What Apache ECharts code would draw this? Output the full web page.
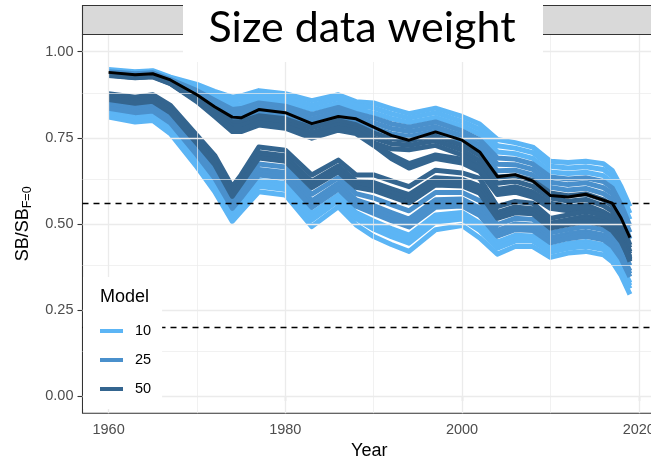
<!DOCTYPE html>
<html>
<head>
<meta charset="utf-8">
<script src="https://cdn.jsdelivr.net/npm/echarts@6/dist/echarts.min.js"></script>
<style>
  html, body { margin: 0; padding: 0; background: #ffffff; }
  #chart { width: 651px; height: 460px; }
</style>
</head>
<body>
<div id="chart"></div>
<script>
// Assessment years at which each trajectory is sampled
const years = [1960,1963,1965,1967,1970,1972,1974,1975,1977,1980,1983,1986,1988,1990,1992,1994,1997,2000,2002,2004,2006,2008,2010,2012,2014,2016,2017,2018,2019];

// Upper group of runs (less depleted), by model
const upper10 = [
  [.948,.942,.945,.926,.905,.885,.868,.872,.887,.878,.858,.875,.855,.851,.835,.820,.836,.812,.790,.745,.736,.723,.682,.678,.682,.675,.655,.608,.550],
  [.946,.940,.943,.924,.899,.876,.856,.860,.875,.866,.845,.863,.844,.837,.820,.807,.823,.798,.775,.727,.720,.707,.667,.662,.666,.658,.638,.591,.531],
  [.944,.938,.941,.922,.893,.868,.844,.847,.863,.854,.832,.850,.833,.822,.806,.794,.809,.784,.760,.709,.704,.690,.651,.646,.650,.640,.621,.574,.513]
];
const upper25 = [
  [.942,.936,.939,.919,.887,.859,.832,.835,.851,.842,.818,.838,.821,.808,.791,.781,.796,.770,.744,.691,.688,.674,.636,.630,.634,.623,.604,.556,.494],
  [.940,.934,.937,.917,.882,.850,.820,.822,.839,.830,.805,.825,.810,.793,.777,.768,.782,.756,.729,.673,.672,.658,.621,.614,.619,.605,.588,.539,.475],
  [.938,.931,.934,.915,.876,.841,.808,.810,.826,.817,.792,.813,.799,.779,.762,.754,.769,.742,.714,.654,.656,.642,.606,.598,.603,.588,.571,.522,.456]
];
const upper50 = [
  [.936,.929,.932,.913,.870,.833,.796,.797,.814,.805,.779,.800,.788,.764,.747,.741,.755,.728,.699,.636,.640,.626,.590,.582,.587,.570,.554,.505,.438],
  [.934,.927,.930,.910,.864,.824,.784,.785,.802,.793,.765,.788,.776,.750,.733,.728,.742,.714,.683,.618,.624,.609,.575,.566,.571,.553,.537,.487,.419],
  [.932,.925,.928,.908,.858,.815,.772,.772,.790,.781,.752,.775,.765,.735,.718,.715,.728,.700,.668,.600,.608,.593,.560,.550,.555,.535,.520,.470,.400]
];
// Runs that leave the upper group in the early 1990s
const drift50 = [
  [.931,.924,.927,.907,.855,.812,.768,.768,.787,.778,.749,.772,.762,.728,.690,.662,.690,.677,.652,.585,.592,.578,.545,.538,.542,.522,.507,.460,.390],
  [.933,.926,.929,.909,.860,.818,.775,.774,.793,.784,.755,.778,.770,.732,.700,.675,.700,.688,.660,.592,.600,.585,.552,.544,.548,.530,.515,.468,.395]
];

// Lower group of runs (more depleted), by model
const lower50 = [
  [.878,.868,.875,.844,.757,.699,.608,.642,.723,.714,.642,.685,.642,.642,.625,.608,.656,.648,.632,.550,.565,.560,.516,.526,.536,.526,.510,.480,.430],
  [.870,.859,.866,.834,.746,.686,.595,.629,.707,.698,.623,.668,.624,.620,.602,.585,.634,.629,.610,.533,.549,.544,.502,.512,.522,.512,.495,.464,.413],
  [.866,.855,.861,.829,.740,.680,.587,.623,.699,.690,.614,.660,.615,.609,.591,.575,.624,.620,.600,.525,.541,.537,.495,.505,.515,.505,.488,.456,.405],
  [.861,.850,.856,.823,.734,.673,.580,.616,.691,.682,.605,.651,.606,.597,.579,.561,.613,.610,.589,.516,.532,.529,.488,.498,.507,.497,.480,.448,.396]
];
const lower25 = [
  [.853,.841,.847,.813,.723,.660,.570,.602,.674,.665,.586,.634,.588,.575,.556,.538,.591,.591,.567,.498,.516,.513,.474,.484,.493,.483,.465,.431,.379],
  [.844,.832,.838,.803,.711,.647,.558,.589,.658,.649,.567,.618,.570,.553,.533,.514,.570,.572,.546,.481,.500,.497,.460,.471,.478,.468,.450,.415,.363],
  [.840,.828,.833,.798,.705,.640,.552,.582,.650,.641,.558,.610,.561,.542,.521,.503,.559,.562,.535,.472,.492,.489,.453,.464,.471,.461,.443,.407,.355],
  [.836,.823,.828,.793,.700,.633,.545,.576,.642,.633,.548,.601,.551,.530,.509,.491,.548,.552,.524,.464,.483,.481,.445,.457,.464,.454,.435,.399,.346]
];
const lower10 = [
  [.827,.814,.819,.782,.688,.620,.532,.563,.626,.617,.530,.584,.533,.508,.486,.467,.526,.533,.502,.447,.467,.465,.431,.443,.449,.439,.420,.383,.329],
  [.823,.810,.814,.777,.683,.614,.526,.556,.618,.609,.521,.576,.524,.497,.475,.456,.516,.524,.492,.438,.459,.458,.424,.436,.442,.432,.413,.375,.321],
  [.819,.805,.809,.772,.677,.607,.520,.549,.609,.600,.511,.567,.515,.485,.463,.444,.505,.514,.481,.429,.450,.450,.417,.429,.435,.425,.405,.366,.312],
  [.810,.796,.800,.762,.665,.594,.507,.536,.593,.584,.492,.550,.497,.463,.440,.420,.483,.495,.459,.412,.434,.434,.403,.415,.420,.410,.390,.350,.295]
];

// Median across all runs
const median = [.940,.933,.936,.918,.875,.840,.810,.808,.832,.823,.791,.812,.805,.781,.757,.743,.767,.743,.709,.637,.643,.625,.582,.578,.586,.569,.560,.517,.460];

// Reference levels (dashed)
const refLevels = [0.56, 0.20];

// Axis breaks
const xTicks = [1960, 1980, 2000, 2020];
const xMinor = [1970, 1990, 2010];
const yTicks = [0, 0.25, 0.5, 0.75, 1];
const yMinor = [0.125, 0.375, 0.625, 0.875];

const modelColors = { '10': '#5CB5F5', '25': '#4A90CC', '50': '#34658F' };
const FONT = '"Liberation Sans", Arial, sans-serif';

function runSeries(name, rows) {
  const color = modelColors[name];
  return rows.map(r => ({
    type: 'line',
    name: name,
    data: years.map((y, i) => [y, r[i]]),
    symbol: 'none',
    silent: true,
    z: 3,
    lineStyle: { color: color, width: 5, join: 'round', cap: 'butt' },
    itemStyle: { color: color }
  }));
}

const gridLine = (key, v, width) => ({ [key]: v, lineStyle: { color: '#EBEBEB', width: width, type: 'solid' } });

const series = [
  {
    type: 'line', data: [], silent: true, z: 1,
    markLine: {
      symbol: 'none', silent: true, animation: false, label: { show: false },
      emphasis: { disabled: true },
      data: [
        ...xMinor.map(v => gridLine('xAxis', v, 0.7)),
        ...yMinor.map(v => gridLine('yAxis', v, 0.7)),
        ...xTicks.map(v => gridLine('xAxis', v, 1.3)),
        ...yTicks.map(v => gridLine('yAxis', v, 1.3))
      ]
    }
  },
  ...runSeries('10', upper10),
  ...runSeries('10', lower10),
  ...runSeries('25', upper25),
  ...runSeries('25', lower25),
  ...runSeries('50', upper50),
  ...runSeries('50', drift50),
  ...runSeries('50', lower50),
  {
    type: 'line', name: 'median', silent: true, z: 5,
    data: years.map((y, i) => [y, median[i]]),
    symbol: 'none',
    lineStyle: { color: '#000000', width: 3, join: 'round' },
    itemStyle: { color: '#000000' }
  },
  {
    type: 'line', data: [], silent: true, z: 6,
    markLine: {
      symbol: 'none', silent: true, animation: false, label: { show: false },
      emphasis: { disabled: true },
      data: refLevels.map(v => ({ yAxis: v, lineStyle: { color: '#000000', width: 1.3, type: [6, 5] } }))
    }
  }
];

const chart = echarts.init(document.getElementById('chart'), null, { renderer: 'canvas' });
chart.setOption({
  animation: false,
  backgroundColor: '#ffffff',
  grid: {
    show: true, left: 82.5, right: -5, top: 34.5, bottom: 46.8,
    outerBoundsMode: 'none', containLabel: false,
    borderColor: '#333333', borderWidth: 1.1, backgroundColor: 'transparent'
  },
  xAxis: {
    type: 'value', min: 1957.05, max: 2021.95,
    splitLine: { show: false },
    axisLine: { show: false },
    axisTick: { show: true, customValues: xTicks, length: 5, lineStyle: { color: '#333333', width: 1.1 } },
    axisLabel: { customValues: xTicks, formatter: v => String(v), color: '#4D4D4D', fontSize: 14.5, fontFamily: FONT, margin: 9 },
    name: 'Year', nameLocation: 'middle', nameGap: 28,
    nameTextStyle: { color: '#000000', fontSize: 18, fontFamily: FONT }
  },
  yAxis: {
    type: 'value', min: -0.05, max: 1.05,
    splitLine: { show: false },
    axisLine: { show: false },
    axisTick: { show: true, customValues: yTicks, length: 5, lineStyle: { color: '#333333', width: 1.1 } },
    axisLabel: { customValues: yTicks, formatter: v => v.toFixed(2), color: '#4D4D4D', fontSize: 14.5, fontFamily: FONT, margin: 9 },
    name: '{a|SB/SB}{b|F=0}', nameLocation: 'middle', nameGap: 47, nameRotate: 90,
    nameTextStyle: {
      rich: {
        a: { fontSize: 18, fontFamily: FONT, color: '#000000' },
        b: { fontSize: 12.5, fontFamily: FONT, color: '#000000', padding: [9, 0, 0, 0] }
      }
    }
  },
  legend: {
    data: ['10', '25', '50'],
    orient: 'vertical', left: 83, top: 277,
    padding: [46, 11, 12, 17],
    backgroundColor: '#ffffff',
    itemWidth: 23, itemHeight: 4, itemGap: 13, icon: 'rect',
    selectedMode: false, z: 20,
    textStyle: { fontSize: 14.5, color: '#000000', fontFamily: FONT, padding: [0, 0, 0, 7], lineHeight: 16 }
  },
  graphic: [
    { type: 'rect', z: 40, shape: { x: 82.5, y: 5.5, width: 590, height: 29 },
      style: { fill: '#D9D9D9', stroke: '#333333', lineWidth: 1.1 } },
    { type: 'rect', z: 41, shape: { x: 183, y: 0, width: 360, height: 62 }, style: { fill: '#ffffff' } },
    { type: 'text', z: 42, x: 362, y: 28,
      style: { text: 'Size data weight', fontSize: 43, fontFamily: 'Lato, sans-serif', fill: '#000000', align: 'center', verticalAlign: 'middle' } },
    { type: 'text', z: 42, x: 100, y: 297,
      style: { text: 'Model', fontSize: 18, fontFamily: FONT, fill: '#000000', align: 'left', verticalAlign: 'middle' } }
  ],
  series: series
});
</script>
</body>
</html>
